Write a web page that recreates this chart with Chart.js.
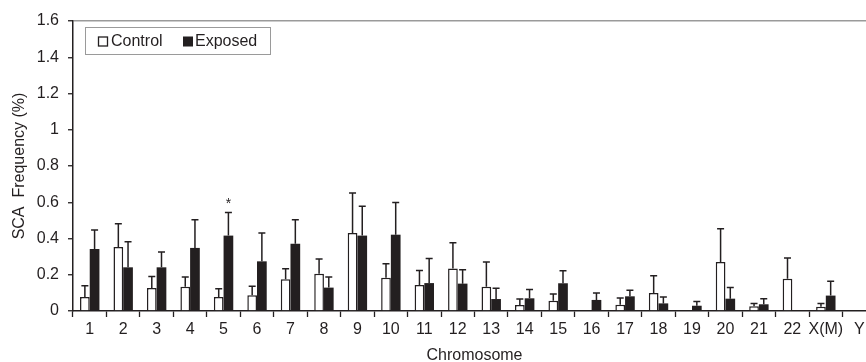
<!DOCTYPE html>
<html>
<head>
<meta charset="utf-8">
<script src="https://cdn.jsdelivr.net/npm/chart.js@4.4.0/dist/chart.umd.min.js"></script>
<style>
  html, body { margin: 0; padding: 0; background: #fff; overflow: hidden; }
  #wrap { width: 878px; height: 362px; position: relative; }
</style>
</head>
<body>
<div id="wrap"><canvas id="scaChart"></canvas></div>
<script>
// chromosome categories
const chromosomes = ['1','2','3','4','5','6','7','8','9','10','11','12','13','14','15','16','17','18','19','20','21','22','X(M)','Y'];

// SCA frequency (%) and upper error (SD)
const control    = [0.077,0.353,0.127,0.134,0.077,0.087,0.175,0.206,0.430,0.184,0.143,0.234,0.134,0.033,0.057,0,0.035,0.099,0,0.270,0.026,0.178,0.024,0];
const controlErr = [0.063,0.129,0.064,0.054,0.046,0.049,0.058,0.081,0.221,0.077,0.081,0.143,0.136,0.033,0.037,0,0.037,0.096,0,0.184,0.016,0.114,0.018,0];
const exposed    = [0.342,0.241,0.241,0.348,0.416,0.274,0.371,0.129,0.416,0.421,0.154,0.151,0.066,0.070,0.153,0.061,0.081,0.042,0.029,0.068,0.037,0,0.085,0];
const exposedErr = [0.105,0.141,0.084,0.156,0.127,0.156,0.133,0.059,0.162,0.177,0.135,0.077,0.059,0.048,0.069,0.038,0.033,0.035,0.024,0.061,0.031,0,0.079,0];

// significant differences
const starred = ['5'];

const FONT = '"Liberation Sans", Arial, sans-serif';
const INK = '#231f20';

// error bars (upward only, with cap)
const errorBars = {
  id: 'errorBars',
  afterDatasetsDraw(chart) {
    const ctx = chart.ctx;
    const y = chart.scales.y;
    ctx.save();
    ctx.strokeStyle = INK;
    ctx.lineWidth = 1.5;
    chart.data.datasets.forEach((ds, i) => {
      const meta = chart.getDatasetMeta(i);
      meta.data.forEach((bar, j) => {
        const err = ds.errors[j];
        if (!err) return;
        const top = y.getPixelForValue(ds.data[j] + err);
        ctx.beginPath();
        ctx.moveTo(bar.x, bar.y);
        ctx.lineTo(bar.x, top);
        ctx.moveTo(bar.x - 3.5, top);
        ctx.lineTo(bar.x + 3.5, top);
        ctx.stroke();
      });
    });
    // asterisks above exposed bars
    const meta = chart.getDatasetMeta(1);
    const ds = chart.data.datasets[1];
    ctx.fillStyle = INK;
    ctx.font = '14px ' + FONT;
    ctx.textAlign = 'center';
    ctx.textBaseline = 'bottom';
    starred.forEach(c => {
      const j = chromosomes.indexOf(c);
      const bar = meta.data[j];
      const top = y.getPixelForValue(ds.data[j] + ds.errors[j]);
      ctx.fillText('*', bar.x, top - 1);
    });
    ctx.restore();
  }
};

// boxed legend in the top left corner
const boxLegend = {
  id: 'boxLegend',
  afterDraw(chart) {
    const ctx = chart.ctx;
    const a = chart.chartArea;
    const x0 = a.left + 12, y0 = a.top + 6, w = 185, h = 27;
    ctx.save();
    ctx.strokeStyle = '#9a9a9a';
    ctx.lineWidth = 1;
    ctx.strokeRect(x0 + 0.5, y0 + 0.5, w, h);
    ctx.font = '16px ' + FONT;
    ctx.textBaseline = 'middle';
    ctx.fillStyle = INK;
    const cy = y0 + h / 2 + 1;
    // control marker
    ctx.strokeStyle = INK;
    ctx.lineWidth = 1.3;
    ctx.strokeRect(x0 + 13.5, cy - 4.5, 9, 9);
    ctx.fillText('Control', x0 + 26, cy);
    // exposed marker
    ctx.fillRect(x0 + 98, cy - 5, 10, 10);
    ctx.fillText('Exposed', x0 + 110, cy);
    ctx.restore();
  }
};

const ctx = document.getElementById('scaChart').getContext('2d');
new Chart(ctx, {
  type: 'bar',
  data: {
    labels: chromosomes,
    datasets: [
      {
        label: 'Control',
        data: control,
        errors: controlErr,
        backgroundColor: '#ffffff',
        borderColor: INK,
        borderWidth: 1.5,
        barPercentage: 1.0,
        categoryPercentage: 0.58
      },
      {
        label: 'Exposed',
        data: exposed,
        errors: exposedErr,
        backgroundColor: INK,
        borderColor: INK,
        borderWidth: 0,
        barPercentage: 1.0,
        categoryPercentage: 0.58
      }
    ]
  },
  options: {
    responsive: true,
    maintainAspectRatio: false,
    animation: false,
    layout: { padding: { top: 21, right: 2, left: 0, bottom: 0 } },
    plugins: {
      legend: { display: false },
      tooltip: { enabled: false }
    },
    scales: {
      x: {
        grid: {
          display: true,
          drawOnChartArea: false,
          tickLength: 6,
          tickColor: INK,
          tickWidth: 1.3
        },
        border: { color: INK, width: 1.5 },
        ticks: {
          color: INK,
          font: { family: FONT, size: 16 },
          padding: 3,
          maxRotation: 0,
          autoSkip: false
        },
        title: {
          display: true,
          text: 'Chromosome',
          color: INK,
          font: { family: FONT, size: 16 },
          padding: { top: 0, bottom: -3 }
        },
        afterFit(scale) { scale.height = 51; }
      },
      y: {
        min: 0,
        max: 1.6,
        ticks: {
          stepSize: 0.2,
          color: INK,
          font: { family: FONT, size: 16 },
          padding: 9,
          callback: v => String(Math.round(v * 10) / 10)
        },
        grid: {
          drawOnChartArea: true,
          tickLength: 5,
          tickColor: INK,
          tickWidth: 1.3,
          color: c => (c.tick && c.tick.value >= 1.6 ? '#9a9a9a' : 'rgba(0,0,0,0)'),
          lineWidth: 1.5
        },
        border: { color: INK, width: 1.5 },
        title: {
          display: true,
          text: 'SCA  Frequency (%)',
          color: INK,
          font: { family: FONT, size: 16 },
          padding: { top: 10, bottom: 0 }
        },
        afterFit(scale) { scale.width = 73; }
      }
    }
  },
  plugins: [errorBars, boxLegend]
});
</script>
</body>
</html>
